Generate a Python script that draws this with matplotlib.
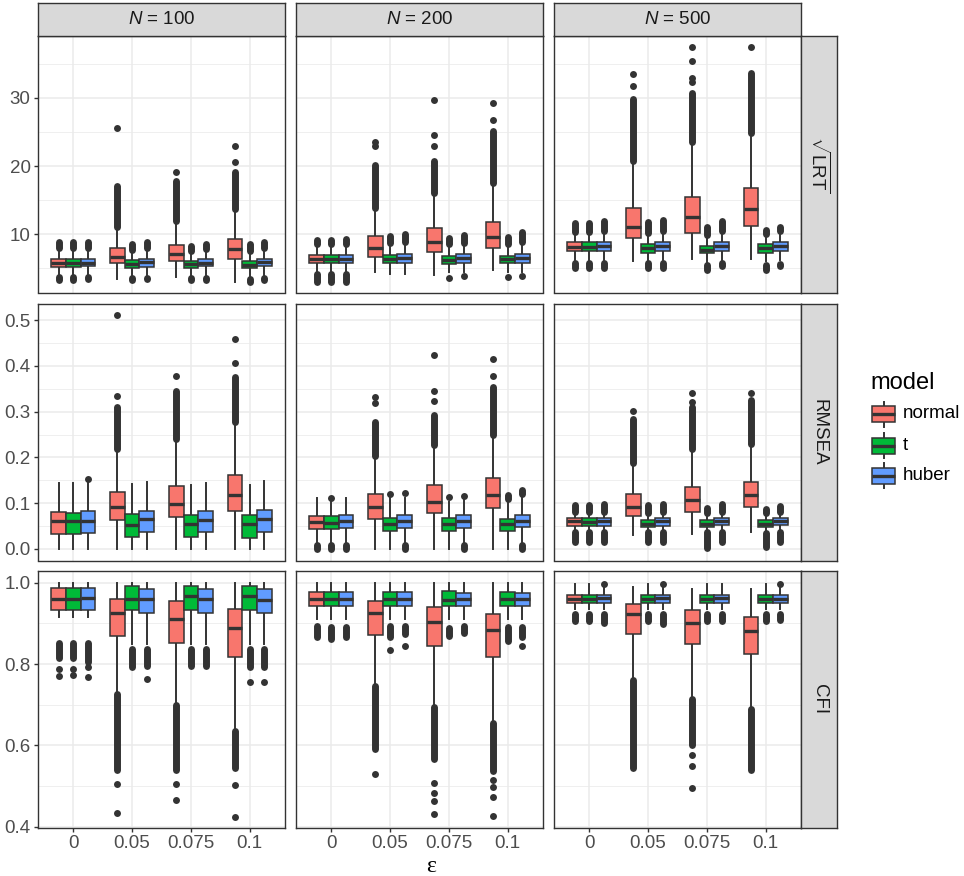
import matplotlib.pyplot as plt
from matplotlib.patches import Rectangle

plt.rcParams['font.family'] = ['Liberation Sans', 'DejaVu Sans']
plt.rcParams['mathtext.fontset'] = 'custom'
plt.rcParams['mathtext.rm'] = 'Liberation Sans'
plt.rcParams['mathtext.it'] = 'Liberation Sans:italic'

eps_labels = ['0', '0.05', '0.075', '0.1']
models = ['normal', 't', 'huber']
colors = ['#F8766D', '#00BA38', '#619CFF']
sizes = ['100', '200', '500']
strip_right = [r'$\sqrt{\mathrm{LRT}}$', 'RMSEA', 'CFI']

# box stats per (eps, model): whislo, q1, med, q3, whishi
lrt_100 = [
    [4.0, 5.2, 5.8, 6.4, 7.6], [4.0, 5.2, 5.8, 6.4, 7.6], [4.1, 5.3, 5.8, 6.4, 7.7],
    [3.4, 5.8, 6.6, 7.9, 10.6], [3.9, 5.0, 5.6, 6.2, 7.3], [4.0, 5.2, 5.9, 6.4, 7.6],
    [3.7, 6.0, 7.1, 8.4, 11.5], [3.9, 5.0, 5.6, 6.1, 7.2], [4.0, 5.3, 5.8, 6.3, 7.5],
    [3.0, 6.4, 7.75, 9.3, 13.3], [3.8, 5.0, 5.5, 6.0, 7.2], [4.0, 5.3, 5.9, 6.4, 7.6],
]
lrt_200 = [
    [4.5, 5.8, 6.4, 7.0, 8.3], [4.5, 5.8, 6.4, 7.0, 8.3], [4.5, 5.8, 6.4, 7.0, 8.3],
    [4.4, 6.7, 8.0, 9.7, 13.5], [4.1, 5.7, 6.3, 6.9, 8.5], [4.2, 5.8, 6.5, 7.1, 8.6],
    [4.0, 7.35, 8.9, 10.9, 15.7], [4.4, 5.6, 6.2, 6.8, 8.2], [4.5, 5.8, 6.5, 7.1, 8.4],
    [4.8, 7.9, 9.6, 11.8, 17.2], [4.4, 5.7, 6.3, 6.8, 8.2], [4.5, 5.8, 6.5, 7.1, 8.5],
]
lrt_500 = [
    [6.2, 7.55, 8.1, 8.8, 10.0], [6.2, 7.55, 8.1, 8.8, 10.0], [6.2, 7.55, 8.2, 8.9, 10.1],
    [6.0, 9.4, 11.0, 13.9, 20.4], [6.0, 7.3, 7.9, 8.5, 9.8], [6.2, 7.5, 8.2, 8.9, 10.1],
    [6.3, 10.2, 12.5, 15.5, 23.3], [5.9, 7.2, 7.7, 8.2, 9.6], [6.2, 7.5, 8.2, 8.8, 10.1],
    [6.4, 11.2, 13.7, 16.8, 24.6], [6.0, 7.2, 7.9, 8.5, 9.6], [6.2, 7.5, 8.2, 8.9, 10.1],
]
rmsea_100 = [
    [0.0, 0.0335, 0.060, 0.080, 0.145], [0.0, 0.032, 0.061, 0.078, 0.144], [0.0, 0.035, 0.061, 0.082, 0.144],
    [0.0, 0.062, 0.091, 0.125, 0.213], [0.0, 0.026, 0.052, 0.077, 0.141], [0.0, 0.037, 0.066, 0.083, 0.147],
    [0.0, 0.070, 0.099, 0.137, 0.235], [0.0, 0.026, 0.054, 0.074, 0.140], [0.0, 0.037, 0.063, 0.082, 0.145],
    [0.0, 0.083, 0.118, 0.161, 0.273], [0.0, 0.024, 0.054, 0.074, 0.140], [0.0, 0.037, 0.065, 0.084, 0.149],
]
rmsea_200 = [
    [0.013, 0.044, 0.058, 0.071, 0.111], [0.013, 0.044, 0.057, 0.071, 0.103], [0.013, 0.045, 0.060, 0.073, 0.111],
    [0.0, 0.066, 0.092, 0.120, 0.197], [0.0, 0.040, 0.054, 0.068, 0.111], [0.013, 0.045, 0.061, 0.073, 0.111],
    [0.0, 0.078, 0.103, 0.140, 0.223], [0.0, 0.039, 0.054, 0.068, 0.103], [0.013, 0.045, 0.060, 0.073, 0.107],
    [0.0, 0.089, 0.118, 0.154, 0.245], [0.0, 0.040, 0.055, 0.066, 0.103], [0.013, 0.047, 0.061, 0.074, 0.111],
]
rmsea_500 = [
    [0.042, 0.051, 0.060, 0.067, 0.076], [0.042, 0.051, 0.059, 0.067, 0.076], [0.042, 0.051, 0.060, 0.068, 0.076],
    [0.031, 0.072, 0.091, 0.119, 0.180], [0.040, 0.047, 0.055, 0.062, 0.070], [0.042, 0.051, 0.060, 0.067, 0.076],
    [0.033, 0.081, 0.106, 0.135, 0.213], [0.040, 0.047, 0.055, 0.062, 0.070], [0.042, 0.052, 0.061, 0.068, 0.076],
    [0.036, 0.092, 0.118, 0.147, 0.223], [0.040, 0.047, 0.055, 0.062, 0.070], [0.042, 0.052, 0.061, 0.068, 0.076],
]
cfi_100 = [
    [0.916, 0.932, 0.961, 0.987, 1.0], [0.916, 0.932, 0.961, 0.987, 1.0], [0.916, 0.932, 0.962, 0.987, 1.0],
    [0.735, 0.868, 0.926, 0.961, 1.0], [0.850, 0.932, 0.961, 0.992, 1.0], [0.850, 0.926, 0.959, 0.984, 1.0],
    [0.707, 0.853, 0.912, 0.954, 1.0], [0.850, 0.932, 0.967, 0.992, 1.0], [0.850, 0.926, 0.959, 0.984, 1.0],
    [0.642, 0.818, 0.889, 0.936, 1.0], [0.850, 0.932, 0.967, 0.992, 1.0], [0.850, 0.926, 0.958, 0.984, 1.0],
]
cfi_200 = [
    [0.910, 0.943, 0.961, 0.977, 1.0], [0.910, 0.943, 0.959, 0.977, 1.0], [0.910, 0.943, 0.961, 0.977, 1.0],
    [0.752, 0.872, 0.926, 0.955, 1.0], [0.910, 0.943, 0.961, 0.977, 1.0], [0.910, 0.943, 0.961, 0.977, 1.0],
    [0.701, 0.844, 0.903, 0.940, 1.0], [0.910, 0.943, 0.957, 0.980, 1.0], [0.910, 0.943, 0.961, 0.975, 1.0],
    [0.660, 0.818, 0.883, 0.924, 1.0], [0.910, 0.943, 0.961, 0.977, 1.0], [0.910, 0.943, 0.959, 0.975, 1.0],
]
cfi_500 = [
    [0.935, 0.951, 0.961, 0.971, 0.998], [0.935, 0.951, 0.959, 0.970, 0.998], [0.935, 0.951, 0.962, 0.971, 0.990],
    [0.768, 0.875, 0.924, 0.947, 0.989], [0.935, 0.951, 0.961, 0.971, 0.998], [0.935, 0.951, 0.962, 0.971, 0.990],
    [0.721, 0.849, 0.902, 0.934, 0.985], [0.935, 0.951, 0.961, 0.971, 0.998], [0.935, 0.951, 0.962, 0.971, 0.998],
    [0.695, 0.826, 0.881, 0.917, 0.985], [0.935, 0.951, 0.959, 0.971, 0.998], [0.935, 0.951, 0.961, 0.971, 0.990],
]

# outliers: (eps index, model index, low, high); low == high is a single point,
# otherwise a dense run of points between low and high
lrt_100_out = [
    (0, 0, 7.9, 8.8), (0, 0, 3.3, 3.7), (0, 1, 7.9, 8.8), (0, 1, 3.3, 3.7), (0, 2, 8.0, 8.9), (0, 2, 3.4, 3.7),
    (1, 0, 11.0, 17.0), (1, 0, 25.6, 25.6), (1, 1, 7.6, 8.5), (1, 1, 3.3, 3.5), (1, 2, 7.9, 8.8), (1, 2, 3.4, 3.6),
    (2, 0, 12.0, 17.8), (2, 0, 19.1, 19.1), (2, 1, 7.5, 8.3), (2, 1, 3.2, 3.5), (2, 2, 7.8, 8.6), (2, 2, 3.3, 3.6),
    (3, 0, 13.7, 19.1), (3, 0, 20.6, 20.6), (3, 0, 23.0, 23.0), (3, 1, 7.5, 8.5), (3, 1, 2.9, 3.4),
    (3, 2, 7.9, 8.9), (3, 2, 3.2, 3.5),
]
lrt_200_out = [
    (0, 0, 8.6, 9.2), (0, 0, 3.0, 4.1), (0, 1, 8.6, 9.2), (0, 1, 3.0, 4.1), (0, 2, 8.6, 9.3), (0, 2, 3.0, 4.1),
    (1, 0, 13.8, 20.2), (1, 0, 22.9, 22.9), (1, 0, 23.6, 23.6), (1, 1, 8.7, 9.8), (1, 2, 8.9, 10.0),
    (2, 0, 16.0, 20.8), (2, 0, 22.9, 22.9), (2, 0, 24.5, 24.5), (2, 0, 29.7, 29.7),
    (2, 1, 8.5, 9.5), (2, 1, 3.6, 3.6), (2, 2, 8.7, 9.9), (2, 2, 3.8, 3.8),
    (3, 0, 17.5, 25.1), (3, 0, 26.7, 26.7), (3, 0, 29.3, 29.3),
    (3, 1, 8.5, 9.6), (3, 1, 3.7, 3.7), (3, 2, 8.8, 10.3), (3, 2, 3.9, 3.9),
]
lrt_500_out = [
    (0, 0, 10.3, 11.6), (0, 0, 5.1, 5.8), (0, 1, 10.3, 11.6), (0, 1, 5.1, 5.8), (0, 2, 10.4, 11.9), (0, 2, 5.1, 5.8),
    (1, 0, 20.7, 29.8), (1, 0, 31.8, 31.8), (1, 0, 33.5, 33.5),
    (1, 1, 10.1, 11.8), (1, 1, 5.1, 5.7), (1, 2, 10.4, 12.1), (1, 2, 5.1, 5.8),
    (2, 0, 23.6, 30.7), (2, 0, 32.4, 32.4), (2, 0, 32.9, 32.9), (2, 0, 35.4, 35.4), (2, 0, 37.5, 37.5),
    (2, 1, 9.9, 11.0), (2, 1, 4.8, 5.4), (2, 2, 10.4, 11.9), (2, 2, 5.3, 5.7),
    (3, 0, 24.9, 33.6), (3, 0, 37.5, 37.5),
    (3, 1, 10.0, 10.6), (3, 1, 4.7, 5.4), (3, 2, 10.4, 11.0), (3, 2, 5.3, 5.6),
]
rmsea_100_out = [
    (0, 2, 0.152, 0.152),
    (1, 0, 0.218, 0.310), (1, 0, 0.335, 0.335), (1, 0, 0.512, 0.512),
    (2, 0, 0.240, 0.345), (2, 0, 0.377, 0.377),
    (3, 0, 0.278, 0.376), (3, 0, 0.407, 0.407), (3, 0, 0.458, 0.458),
]
rmsea_200_out = [
    (0, 0, 0.0, 0.008), (0, 1, 0.0, 0.008), (0, 1, 0.112, 0.112), (0, 2, 0.0, 0.008),
    (1, 0, 0.202, 0.278), (1, 0, 0.318, 0.318), (1, 0, 0.333, 0.333),
    (1, 1, 0.119, 0.119), (1, 2, 0.123, 0.123), (1, 2, 0.0, 0.008),
    (2, 0, 0.228, 0.292), (2, 0, 0.323, 0.323), (2, 0, 0.346, 0.346), (2, 0, 0.423, 0.423),
    (2, 1, 0.113, 0.113), (2, 2, 0.116, 0.116), (2, 2, 0.0, 0.008),
    (3, 0, 0.250, 0.354), (3, 0, 0.378, 0.378), (3, 0, 0.416, 0.416),
    (3, 1, 0.110, 0.117), (3, 2, 0.119, 0.128), (3, 2, 0.0, 0.008),
]
rmsea_500_out = [
    (0, 0, 0.080, 0.095), (0, 0, 0.015, 0.036), (0, 1, 0.080, 0.095), (0, 1, 0.015, 0.036),
    (0, 2, 0.080, 0.098), (0, 2, 0.015, 0.036),
    (1, 0, 0.187, 0.283), (1, 0, 0.302, 0.302), (1, 1, 0.078, 0.095), (1, 1, 0.015, 0.036),
    (1, 2, 0.080, 0.098), (1, 2, 0.015, 0.036),
    (2, 0, 0.219, 0.310), (2, 0, 0.322, 0.322), (2, 0, 0.340, 0.340),
    (2, 1, 0.078, 0.090), (2, 1, 0.002, 0.036), (2, 2, 0.080, 0.097), (2, 2, 0.015, 0.036),
    (3, 0, 0.230, 0.325), (3, 0, 0.340, 0.340),
    (3, 1, 0.078, 0.088), (3, 1, 0.003, 0.034), (3, 2, 0.080, 0.093), (3, 2, 0.015, 0.036),
]
cfi_100_out = [
    (0, 0, 0.815, 0.852), (0, 0, 0.789, 0.789), (0, 0, 0.771, 0.771),
    (0, 1, 0.815, 0.852), (0, 1, 0.789, 0.789), (0, 1, 0.773, 0.773),
    (0, 2, 0.805, 0.852), (0, 2, 0.793, 0.793), (0, 2, 0.768, 0.768),
    (1, 0, 0.540, 0.726), (1, 0, 0.505, 0.505), (1, 0, 0.433, 0.433),
    (1, 1, 0.792, 0.838), (1, 2, 0.796, 0.838), (1, 2, 0.764, 0.764),
    (2, 0, 0.540, 0.700), (2, 0, 0.505, 0.505), (2, 0, 0.466, 0.466),
    (2, 1, 0.796, 0.836), (2, 2, 0.796, 0.836),
    (3, 0, 0.545, 0.636), (3, 0, 0.502, 0.502), (3, 0, 0.425, 0.425),
    (3, 1, 0.792, 0.836), (3, 1, 0.755, 0.755), (3, 2, 0.792, 0.836), (3, 2, 0.755, 0.755),
]
cfi_200_out = [
    (0, 0, 0.866, 0.894), (0, 1, 0.862, 0.892), (0, 2, 0.866, 0.892),
    (1, 0, 0.590, 0.745), (1, 0, 0.529, 0.529),
    (1, 1, 0.866, 0.894), (1, 1, 0.834, 0.834), (1, 2, 0.874, 0.894), (1, 2, 0.845, 0.845),
    (2, 0, 0.566, 0.695), (2, 0, 0.507, 0.507), (2, 0, 0.484, 0.484), (2, 0, 0.462, 0.462), (2, 0, 0.430, 0.430),
    (2, 1, 0.870, 0.890), (2, 2, 0.876, 0.893),
    (3, 0, 0.537, 0.655), (3, 0, 0.515, 0.515), (3, 0, 0.498, 0.498), (3, 0, 0.472, 0.472), (3, 0, 0.427, 0.427),
    (3, 1, 0.858, 0.892), (3, 2, 0.866, 0.892), (3, 2, 0.844, 0.844),
]
cfi_500_out = [
    (0, 0, 0.905, 0.922), (0, 1, 0.905, 0.922), (0, 2, 0.900, 0.924), (0, 2, 0.998, 0.998),
    (1, 0, 0.545, 0.762), (1, 1, 0.905, 0.922), (1, 2, 0.899, 0.922), (1, 2, 0.998, 0.998),
    (2, 0, 0.600, 0.715), (2, 0, 0.576, 0.576), (2, 0, 0.549, 0.549), (2, 0, 0.494, 0.494),
    (2, 1, 0.905, 0.922), (2, 2, 0.905, 0.922),
    (3, 0, 0.540, 0.690), (3, 1, 0.905, 0.922), (3, 2, 0.908, 0.924), (3, 2, 0.998, 0.998),
]

boxes = [[lrt_100, lrt_200, lrt_500],
         [rmsea_100, rmsea_200, rmsea_500],
         [cfi_100, cfi_200, cfi_500]]
outliers = [[lrt_100_out, lrt_200_out, lrt_500_out],
            [rmsea_100_out, rmsea_200_out, rmsea_500_out],
            [cfi_100_out, cfi_200_out, cfi_500_out]]

ylims = [(1.43, 39.1), (-0.0255, 0.5355), (0.398, 1.029)]
yticks = [([10, 20, 30], [5, 15, 25, 35]),
          ([0.0, 0.1, 0.2, 0.3, 0.4, 0.5], [0.05, 0.15, 0.25, 0.35, 0.45]),
          ([0.4, 0.6, 0.8, 1.0], [0.5, 0.7, 0.9])]
ytick_labels = [['10', '20', '30'],
                ['0.0', '0.1', '0.2', '0.3', '0.4', '0.5'],
                ['0.4', '0.6', '0.8', '1.0']]

W, H = 964, 876
fig = plt.figure(figsize=(W / 100, H / 100), dpi=100)
fig.patch.set_facecolor('white')


def rect(l, t, w, h):
    return [l / W, 1 - (t + h) / H, w / W, h / H]


col_left = [38, 296, 554]
row_top = [36, 304, 571]
pw, ph = 247, 256.5
dark = '#333333'
bw = 0.25

for r in range(3):
    for c in range(3):
        ax = fig.add_axes(rect(col_left[c], row_top[r], pw, ph))
        stats, pos, cols = [], [], []
        for k, (lo, q1, med, q3, hi) in enumerate(boxes[r][c]):
            e, m = divmod(k, 3)
            stats.append(dict(whislo=lo, q1=q1, med=med, q3=q3, whishi=hi, fliers=[]))
            pos.append(e + 1 + (m - 1) * bw)
            cols.append(colors[m])
        bp = ax.bxp(stats, positions=pos, widths=bw, patch_artist=True,
                    showfliers=False, showcaps=False,
                    boxprops=dict(edgecolor=dark, linewidth=1.1),
                    whiskerprops=dict(color=dark, linewidth=1.4),
                    medianprops=dict(color=dark, linewidth=2.4, solid_capstyle='butt'))
        for patch, col in zip(bp['boxes'], cols):
            patch.set_facecolor(col)
            patch.set_zorder(3)
        for line in bp['medians']:
            line.set_zorder(4)
        for e, m, lo, hi in outliers[r][c]:
            x = e + 1 + (m - 1) * bw
            if lo == hi:
                ax.plot([x], [lo], 'o', ms=5, color=dark, mec='none', zorder=5)
            else:
                ax.plot([x, x], [lo, hi], color=dark, lw=5, solid_capstyle='round', zorder=5)

        ax.set_xlim(0.4, 4.6)
        ax.set_ylim(*ylims[r])
        ax.set_xticks([1, 2, 3, 4])
        ax.set_xticklabels(eps_labels)
        ax.set_yticks(yticks[r][0])
        ax.set_yticklabels(ytick_labels[r])
        ax.set_yticks(yticks[r][1], minor=True)
        ax.set_axisbelow(True)
        ax.grid(which='major', color='#EBEBEB', lw=1.1)
        ax.grid(which='minor', axis='y', color='#EBEBEB', lw=0.55)
        for s in ax.spines.values():
            s.set_color(dark)
            s.set_linewidth(1.0)
        ax.tick_params(which='major', length=2.75, width=1, color=dark,
                       labelsize=13.5, labelcolor='#4D4D4D', pad=2.5)
        ax.tick_params(which='minor', length=0)
        if c > 0:
            ax.tick_params(axis='y', which='both', left=False, labelleft=False)
        if r < 2:
            ax.tick_params(axis='x', which='both', bottom=False, labelbottom=False)

# top strips
for c in range(3):
    sax = fig.add_axes(rect(col_left[c], 3, pw, 33))
    sax.set_facecolor('#D9D9D9')
    sax.set_xticks([])
    sax.set_yticks([])
    for s in sax.spines.values():
        s.set_color(dark)
        s.set_linewidth(1.0)
    sax.text(0.5, 0.5, r'$\mathit{N}$ = ' + sizes[c], transform=sax.transAxes,
             ha='center', va='center', fontsize=13.5, color='#1A1A1A')

# right strips
for r in range(3):
    sax = fig.add_axes(rect(col_left[2] + pw, row_top[r], 36, ph))
    sax.set_facecolor('#D9D9D9')
    sax.set_xticks([])
    sax.set_yticks([])
    for s in sax.spines.values():
        s.set_color(dark)
        s.set_linewidth(1.0)
    sax.text(0.5, 0.5, strip_right[r], transform=sax.transAxes, rotation=270,
             ha='center', va='center', fontsize=13.5, color='#1A1A1A')

# overlay in pixel coordinates for legend and axis title
lax = fig.add_axes([0, 0, 1, 1])
lax.set_xlim(0, W)
lax.set_ylim(H, 0)
lax.axis('off')
lax.patch.set_alpha(0)

lax.text(870, 383, 'model', fontsize=17, ha='left', va='center', color='black')
key_y = [414, 445.5, 475.5]
for name, col, ky in zip(models, colors, key_y):
    lax.plot([883.5, 883.5], [ky - 12.5, ky + 12.5], color=dark, lw=1.4)
    lax.add_patch(Rectangle((872, ky - 8), 23, 16, facecolor=col, edgecolor=dark, lw=1.1, zorder=3))
    lax.plot([872, 895], [ky, ky], color=dark, lw=2.4, solid_capstyle='butt', zorder=4)
    lax.text(903, ky, name, fontsize=13.5, ha='left', va='center', color='black')

lax.text(431, 866, 'ε', fontsize=17, ha='center', va='center', color='black',
         family=['Liberation Serif', 'DejaVu Serif'])

fig.savefig('out.png', dpi=100)
